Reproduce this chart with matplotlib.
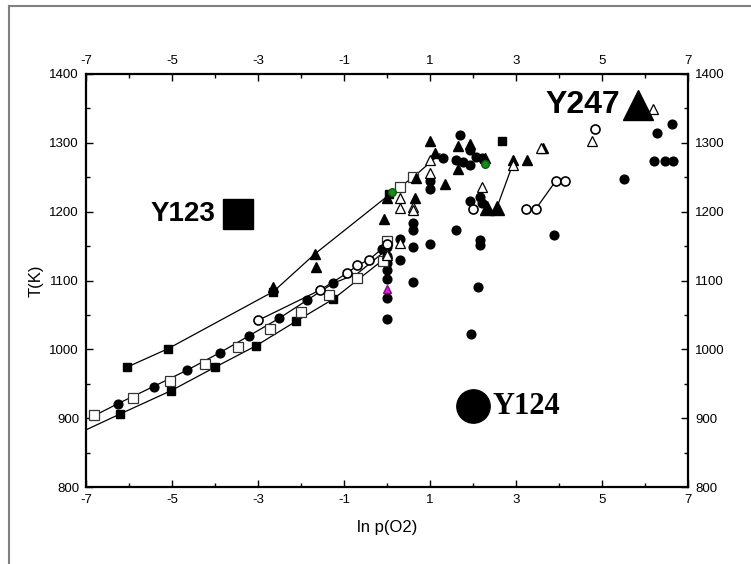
import matplotlib
matplotlib.use('Agg')
from matplotlib import pyplot as plt
from matplotlib.lines import Line2D
from matplotlib.ticker import MultipleLocator

plt.rcParams['font.family'] = ['Liberation Sans', 'DejaVu Sans']
plt.rcParams['axes.unicode_minus'] = False

# lines (ln pO2, T)
l1_x = [-7.0, -6.21, -5.02, -4.0, -3.05, -2.11, -1.25, -0.05]
l1_T = [883, 906, 940, 974, 1005, 1041, 1073, 1132]
l2_x = [-6.92, -6.26, -5.43, -4.64, -3.89, -3.20, -2.51, -1.87, -1.25, -0.69, -0.10]
l2_T = [900, 921, 946, 970, 995, 1020, 1045, 1071, 1096, 1110, 1140]
l3_x = [-3.0, -1.56, -0.92, -0.69, -0.42, 0.01]
l3_T = [1042, 1086, 1111, 1122, 1130, 1153]
l4_x = [-6.05, -5.09, -2.64, -1.67, 0.0, 0.11, 0.30, 0.61, 1.23]
l4_T = [974, 1001, 1084, 1139, 1222, 1229, 1236, 1250, 1284]
l5_x = [2.55, 2.92]
l5_T = [1205, 1268]
l6_x = [3.23, 3.46, 3.93, 4.14]
l6_T = [1204, 1204, 1245, 1245]

# filled circles
fc_x = [-6.26, -5.43, -4.64, -3.89, -3.20, -2.51, -1.87, -1.25,
        -0.12, 0.0, 0.0, 0.0, 0.0, 0.0, 0.0, 0.0,
        0.30, 0.30, 0.61, 0.61, 0.61, 0.61, 1.0, 1.0, 1.0, 1.31, 1.70,
        1.60, 1.77, 1.93, 2.08, 2.20, 1.93, 1.60, 1.93, 2.16, 2.20, 2.16, 2.16,
        2.11, 1.95, 6.62, 6.27, 6.22, 6.47, 6.64, 5.50, 3.89]
fc_T = [921, 946, 970, 995, 1020, 1045, 1071, 1096,
        1146, 1149, 1135, 1125, 1115, 1102, 1074, 1044,
        1161, 1130, 1184, 1174, 1149, 1098, 1245, 1233, 1153, 1278, 1312,
        1275, 1272, 1268, 1280, 1278, 1290, 1174, 1215, 1222, 1212, 1159, 1152,
        1090, 1023, 1328, 1315, 1273, 1273, 1273, 1247, 1166]

# open circles
oc_x = [-3.0, -1.56, -0.92, -0.69, -0.42, 0.01, 2.01, 3.23, 3.46, 3.93, 4.14, 4.83]
oc_T = [1042, 1086, 1111, 1122, 1130, 1153, 1204, 1204, 1204, 1245, 1245, 1320]

# filled squares
fs_x = [-6.21, -5.02, -4.0, -3.05, -2.11, -1.25, -6.05, -5.09, -2.64, 0.05, 2.67]
fs_T = [906, 940, 974, 1005, 1041, 1073, 974, 1001, 1084, 1226, 1302]

# open squares
os_x = [-6.81, -5.90, -5.04, -4.23, -3.46, -2.72, -2.01, -1.34, -0.69, -0.10, 0.0, 0.30, 0.61]
os_T = [904, 929, 954, 979, 1004, 1029, 1054, 1079, 1103, 1129, 1157, 1236, 1250]

# filled triangles
ft_x = [-2.64, -1.67, -1.65, -0.07, 0.0, 0.65, 0.67, 1.35, 1.0, 1.12, 1.64, 1.93,
        1.66, 2.29, 2.94, 3.25, 3.62]
ft_T = [1091, 1139, 1119, 1189, 1220, 1220, 1249, 1240, 1302, 1285, 1295, 1299,
        1262, 1278, 1275, 1275, 1292]
bt_x = [2.32, 2.55]
bt_T = [1205, 1205]

# open triangles
ot_x = [1.0, 1.0, 0.61, 0.61, 0.30, 0.30, 0.30, 0.0, 0.0, 2.20, 2.92, 3.58, 4.76, 6.18]
ot_T = [1275, 1256, 1207, 1203, 1220, 1205, 1154, 1140, 1137, 1236, 1268, 1292, 1303, 1349]

green_x = [0.11, 2.29]
green_T = [1229, 1269]
mag_x = [0.0]
mag_T = [1087]

xticks = [-7, -5, -3, -1, 1, 3, 5, 7]

fig = plt.figure(figsize=(7.51, 5.64), dpi=100)
ax = fig.add_axes([86/751, 1-487/564, 602/751, 413/564])

lk = dict(color='black', lw=0.9, zorder=2)
for xs, ts in [(l1_x, l1_T), (l2_x, l2_T), (l3_x, l3_T), (l4_x, l4_T), (l5_x, l5_T), (l6_x, l6_T)]:
    ax.plot(xs, ts, **lk)

ax.plot(fc_x, fc_T, 'o', ms=6.3, mfc='black', mec='black', zorder=3)
ax.plot(fs_x, fs_T, 's', ms=6.2, mfc='black', mec='black', zorder=3)
ax.plot(os_x, os_T, 's', ms=6.5, mfc='white', mec='#333333', mew=0.9, zorder=3)
ax.plot(oc_x, oc_T, 'o', ms=6.5, mfc='white', mec='black', mew=1.2, zorder=4)
ax.plot(ft_x, ft_T, '^', ms=7, mfc='black', mec='black', zorder=3)
ax.plot(bt_x, bt_T, '^', ms=10, mfc='black', mec='black', zorder=3)
ax.plot(ot_x, ot_T, '^', ms=7, mfc='white', mec='black', mew=0.9, zorder=4)
ax.plot(green_x, green_T, 'o', ms=5.5, mfc='#1a8a1a', mec='#0b5e0b', zorder=5)
ax.plot(mag_x, mag_T, '^', ms=6, mfc='#e020e0', mec='#8a008a', zorder=5)

# labelled reference markers
ax.plot([-3.46], [1196], 's', ms=21, mfc='black', mec='black', zorder=5)
ax.text(-4.0, 1196, 'Y123', ha='right', va='center', fontsize=20, fontweight='bold')
ax.plot([1.99], [917], 'o', ms=24, mfc='black', mec='black', zorder=5)
ax.text(2.45, 917, 'Y124', ha='left', va='center', fontsize=22, fontweight='bold',
        family=['Liberation Serif', 'DejaVu Serif'])
ax.plot([5.84], [1355], '^', ms=22, mfc='black', mec='black', zorder=5)
ax.text(5.42, 1355, 'Y247', ha='right', va='center', fontsize=23, fontweight='bold')

ax.set_xlim(-7, 7)
ax.set_ylim(800, 1400)
ax.set_xticks(xticks)
ax.xaxis.set_minor_locator(MultipleLocator(1))
ax.yaxis.set_major_locator(MultipleLocator(100))
ax.yaxis.set_minor_locator(MultipleLocator(50))
ax.tick_params(which='both', direction='in', top=True, right=True,
               labeltop=True, labelright=True, labelsize=9.5, width=1, pad=5)
ax.tick_params(which='major', length=5)
ax.tick_params(which='minor', length=3)
for s in ax.spines.values():
    s.set_linewidth(1.6)

ax.set_xlabel('ln p(O2)', fontsize=12, labelpad=10)
ax.set_ylabel('T(K)', fontsize=12, labelpad=4)

# outer frame
fig.add_artist(Line2D([9/751, 9/751], [0, 1-6/564], color='#808080', lw=1.5))
fig.add_artist(Line2D([9/751, 1], [1-6/564, 1-6/564], color='#808080', lw=1.5))

fig.savefig('out.png', dpi=100)
